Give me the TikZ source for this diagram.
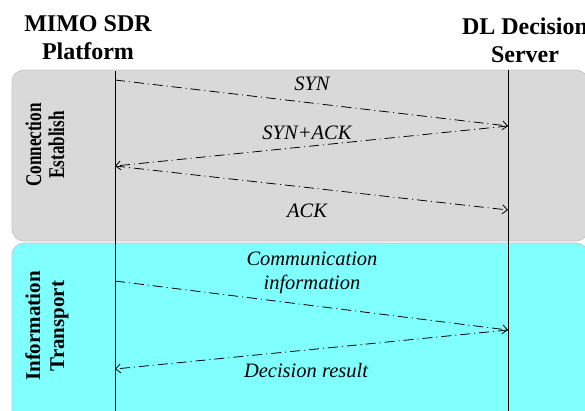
\documentclass[tikz,border=0pt]{standalone}
\usepackage{fontspec}
\setmainfont{Liberation Serif}
\usetikzlibrary{arrows.meta}
\definecolor{phasegray}{RGB}{217,217,217}
\definecolor{phasecyan}{RGB}{128,255,255}
\begin{document}
\begin{tikzpicture}[x=1pt,y=-1pt,
  phase/.style={rounded corners=12pt, draw=black!22, line width=0.8pt, fill=#1},
  header/.style={font=\fontsize{24}{28}\selectfont\bfseries, align=center, inner sep=0pt},
  sidelbl/.style={font=\fontsize{21}{24}\selectfont\bfseries, align=center, inner sep=0pt, rotate=90},
  lifeline/.style={draw, line width=0.9pt},
  msg/.style={draw, line width=0.8pt, dash pattern=on 10pt off 4pt on 1pt off 4pt,
    -{Straight Barb[length=5pt,width=9pt]}},
  lbl/.style={font=\fontsize{20.5}{24}\selectfont\itshape, align=center, inner sep=0pt}]
\useasboundingbox (0,0) rectangle (585,410);
\clip (0,0) rectangle (585,410);
% phase boxes
\path[phase=phasegray] (12,70) rectangle (588,241);
\path[phase=phasecyan] (12,243) rectangle (588,430);
% headers
\node[header] (hA) at (88,38) {MIMO SDR\\Platform};
\node[header] (hB) at (525,40) {DL Decision\\Server};
% side labels
\node[sidelbl, font=\fontsize{22.5}{23}\selectfont\bfseries] (pC) at (45,145)
  {\scalebox{0.76}[1]{Connection}\\\scalebox{0.76}[1]{Establish}};
\node[sidelbl] (pI) at (47,326) {Information\\Transport};
% lifelines
\coordinate (Atop) at (115,71);
\coordinate (Abot) at (115,412);
\coordinate (Btop) at (508,70);
\coordinate (Bbot) at (508,412);
\path[lifeline] (Atop) -- (Abot);
\path[lifeline] (Btop) -- (Bbot);
% message points
\coordinate (a1) at (115,80);
\coordinate (b1) at (508,126);
\coordinate (a2) at (115,166);
\coordinate (b2) at (508,210);
\coordinate (a3) at (115,281);
\coordinate (b3) at (508,330);
\coordinate (a4) at (115,369);
% messages
\path[msg] (a1) -- (b1);
\path[msg] (b1) -- (a2);
\path[msg] (a2) -- (b2);
\path[msg] (a3) -- (b3);
\path[msg] (b3) -- (a4);
% labels
\node[lbl, anchor=base] (l1) at (312,90) {SYN};
\node[lbl, anchor=base] (l2) at (307,139) {SYN+ACK};
\node[lbl, anchor=base] (l3) at (307,217) {ACK};
\node[lbl] (l4) at (312,273) {Communication\\information};
\node[lbl, anchor=base] (l5) at (306,377) {Decision result};
\end{tikzpicture}
\end{document}
